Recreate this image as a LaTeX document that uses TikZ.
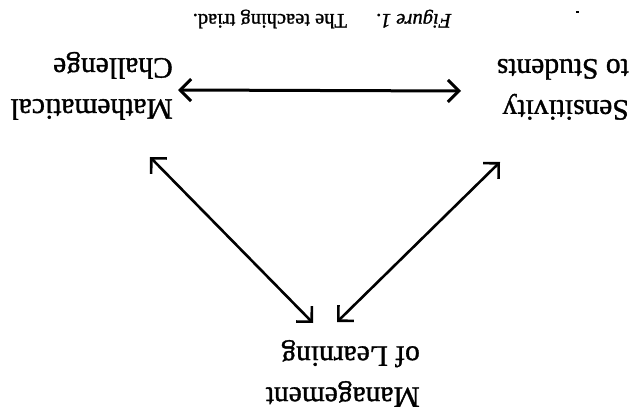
\documentclass[tikz,border=0pt]{standalone}
\usepackage{fontspec}
\setmainfont{Liberation Serif}[BoldFont={Liberation Serif},BoldFeatures={FakeBold=1.2},
  BoldItalicFont={Liberation Serif Italic},BoldItalicFeatures={FakeBold=1.2}]
\usetikzlibrary{arrows.meta}
\tikzset{
  label/.style={rotate=180, anchor=north west, inner sep=0pt, align=left,
    font=\fontsize{29.5}{41}\selectfont\bfseries},
  link/.style={{Straight Barb[length=11pt,width=22pt]}-{Straight Barb[length=11pt,width=22pt]}, line width=2.6pt},
}
\begin{document}
\begin{tikzpicture}[x=1pt,y=-1pt]
\useasboundingbox (0,0) rectangle (632,414);
\node[label] (math) at (173,120) {Mathematical\\Challenge};
\node[label] (sens) at (629,120) {Sensitivity\\to Students};
\node[label] (mgmt) at (420,407) {Management\\of Learning};
\node[rotate=180, inner sep=0pt, font=\fontsize{20.5}{24}\selectfont\bfseries] (cap) at (322,19) {\textit{Figure 1.}\hspace{1.4em}The teaching triad.};
\fill (576,11) rectangle (578.5,13.5);
\coordinate (mR) at (178,90);
\coordinate (sL) at (461,91);
\coordinate (mB) at (150,157);
\coordinate (gL) at (313,323);
\coordinate (sB) at (500,162);
\coordinate (gR) at (337,322);
\draw[link, line width=3pt] (mR) -- (sL);
\draw[link] (mB) -- (gL);
\draw[link] (sB) -- (gR);
\end{tikzpicture}
\end{document}
